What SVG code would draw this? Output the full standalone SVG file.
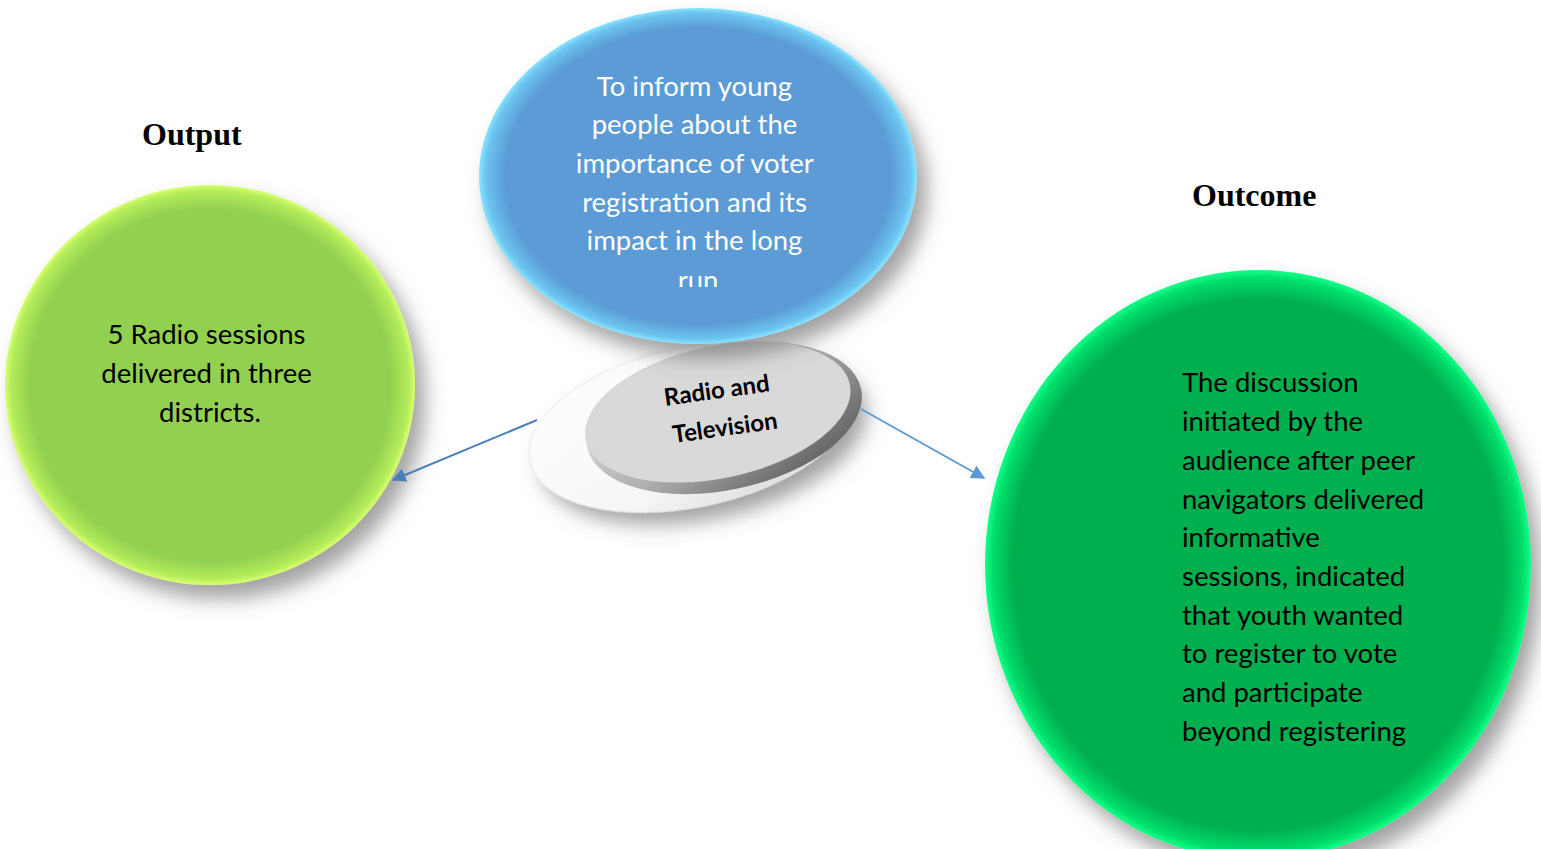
<svg xmlns="http://www.w3.org/2000/svg" width="1541" height="849" viewBox="0 0 1541 849">
<style>
.body{font-family:Lato,"Open Sans","Noto Sans",sans-serif;font-size:27.5px}
.w{fill:#ffffff}
.k{fill:#000000}
.hd{font-family:"Liberation Serif","Times New Roman",serif;font-weight:bold;font-size:32px;fill:#000}
.conn{stroke:#5b9bd5;stroke-width:2;fill:none}
</style>
<defs>
<filter id="sh" x="-20%" y="-20%" width="150%" height="150%">
<feDropShadow dx="10" dy="14" stdDeviation="10" flood-color="#555" flood-opacity="0.55"/>
</filter>
<radialGradient id="gBlue" cx="0.5" cy="0.5" r="0.5">
<stop offset="0.88" stop-color="#5b9bd5"/>
<stop offset="0.97" stop-color="#6cc4f0"/>
<stop offset="1" stop-color="#8ae4ff"/>
</radialGradient>
<radialGradient id="gLime" cx="0.5" cy="0.5" r="0.5">
<stop offset="0.88" stop-color="#92d050"/>
<stop offset="0.97" stop-color="#b4ec5a"/>
<stop offset="1" stop-color="#d8ff70"/>
</radialGradient>
<radialGradient id="gGreen" cx="0.5" cy="0.5" r="0.5">
<stop offset="0.9" stop-color="#00b050"/>
<stop offset="0.97" stop-color="#00dc6a"/>
<stop offset="1" stop-color="#10ff88"/>
</radialGradient>
<linearGradient id="gRim" x1="0" y1="0" x2="1" y2="1">
<stop offset="0" stop-color="#eeeeee"/>
<stop offset="0.5" stop-color="#b0b0b0"/>
<stop offset="1" stop-color="#4a4a4a"/>
</linearGradient>
<linearGradient id="gOuter" x1="0" y1="0" x2="1" y2="1">
<stop offset="0" stop-color="#ffffff"/>
<stop offset="0.6" stop-color="#f6f6f6"/>
<stop offset="1" stop-color="#d0d0d0"/>
</linearGradient>
<marker id="ah" viewBox="0 0 10 10" refX="9" refY="5" markerWidth="7" markerHeight="7" orient="auto-start-reverse" markerUnits="strokeWidth">
<path d="M0,0 L10,5 L0,10 z" fill="#5b9bd5"/>
</marker>
<marker id="ah2" viewBox="0 0 10 10" refX="9" refY="5" markerWidth="7" markerHeight="7" orient="auto-start-reverse" markerUnits="strokeWidth">
<path d="M0,0 L10,5 L0,10 z" fill="#4a7ebb"/>
</marker>
<clipPath id="clipBlue"><rect x="470" y="0" width="460" height="287"/></clipPath>
</defs>

<text class="hd" x="142" y="145">Output</text>
<text class="hd" x="1192" y="206">Outcome</text>

<g id="output">
<ellipse cx="210" cy="385" rx="205" ry="200" fill="url(#gLime)" filter="url(#sh)"/>
<text class="body k" text-anchor="middle">
<tspan x="210" y="344">5 Radio sessions</tspan>
<tspan x="210" y="383">delivered in three</tspan>
<tspan x="210" y="422">districts.</tspan>
</text>
</g>

<g id="outcome">
<ellipse cx="1258" cy="565" rx="273" ry="295" fill="url(#gGreen)" filter="url(#sh)"/>
<text class="body k">
<tspan x="1182" y="392">The discussion</tspan>
<tspan x="1182" y="431">initiated by the</tspan>
<tspan x="1182" y="470">audience after peer</tspan>
<tspan x="1182" y="509">navigators delivered</tspan>
<tspan x="1182" y="547">informative</tspan>
<tspan x="1182" y="586">sessions, indicated</tspan>
<tspan x="1182" y="625">that youth wanted</tspan>
<tspan x="1182" y="663">to register to vote</tspan>
<tspan x="1182" y="702">and participate</tspan>
<tspan x="1182" y="741">beyond registering</tspan>
</text>
</g>

<g id="media">
<g transform="rotate(-12 700 420)">
<ellipse cx="690" cy="425" rx="165" ry="80" fill="url(#gOuter)" stroke="#e6e6e6" stroke-width="1" filter="url(#sh)"/>
<ellipse cx="724" cy="423" rx="140" ry="72" fill="url(#gRim)"/>
<ellipse cx="719" cy="416" rx="135" ry="66" fill="#d9d9d9"/>
</g>
<text transform="rotate(-8 722 407)" font-family="Lato,'Open Sans',sans-serif" font-weight="bold" font-size="24" fill="#000" text-anchor="middle">
<tspan x="722" y="398">Radio and</tspan>
<tspan x="722" y="436">Television</tspan>
</text>
</g>

<g id="purpose">
<ellipse cx="698" cy="176" rx="219" ry="168" fill="url(#gBlue)" filter="url(#sh)"/>
<text class="body w" text-anchor="middle" clip-path="url(#clipBlue)">
<tspan x="698" y="96">To inform young</tspan>
<tspan x="698" y="134">people about the</tspan>
<tspan x="698" y="173">importance of voter</tspan>
<tspan x="698" y="212">registration and its</tspan>
<tspan x="698" y="250">impact in the long</tspan>
<tspan x="698" y="290">run</tspan>
</text>
</g>

<g id="connectors">
<line class="conn" x1="537" y1="420" x2="393" y2="480" marker-end="url(#ah2)" style="stroke:#4a7ebb"/>
<line class="conn" x1="861" y1="409" x2="984" y2="478" marker-end="url(#ah)"/>
</g>
</svg>
